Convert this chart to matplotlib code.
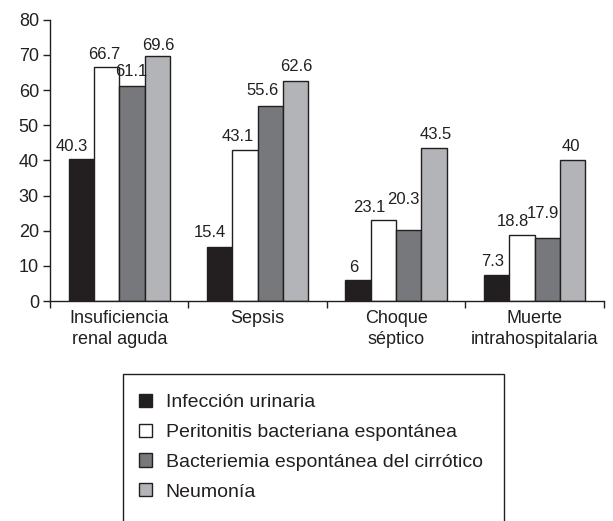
import numpy as np
import matplotlib
matplotlib.use('Agg')
import matplotlib.pyplot as plt
from matplotlib.patches import Rectangle

plt.rcParams['font.family'] = ['Liberation Sans', 'DejaVu Sans']

categories = ['Insuficiencia\nrenal aguda', 'Sepsis', 'Choque\nséptico', 'Muerte\nintrahospitalaria']
series = ['Infección urinaria', 'Peritonitis bacteriana espontánea',
          'Bacteriemia espontánea del cirrótico', 'Neumonía']
infeccion = [40.3, 15.4, 6, 7.3]
peritonitis = [66.7, 43.1, 23.1, 18.8]
bacteriemia = [61.1, 55.6, 20.3, 17.9]
neumonia = [69.6, 62.6, 43.5, 40]
value_labels = [['40.3', '15.4', '6', '7.3'],
                ['66.7', '43.1', '23.1', '18.8'],
                ['61.1', '55.6', '20.3', '17.9'],
                ['69.6', '62.6', '43.5', '40']]
colors = ['#231f20', '#ffffff', '#77787b', '#b3b4b7']
EDGE = '#231f20'

# hand placement of the value labels (pixel offsets from the bar top centre)
label_dx = [[-9.5, -9.5, -4, -4],
            [-2, -7, -14.5, -9.5],
            [-0.5, -7.5, -5.5, -4.5],
            [1.5, 0.5, 1.5, -1.5]]
label_dy = [[13, 14, 13, 14],
            [12, 13, 12, 14],
            [15, 15, 30, 25],
            [11, 14, 14, 14]]

fig = plt.figure(figsize=(6.13, 5.21), dpi=100)
ax = fig.add_axes([0.0816, 0.422, 0.9034, 0.540])

x = np.arange(len(categories))
w = 0.183
data = [infeccion, peritonitis, bacteriemia, neumonia]
for i, (vals, c) in enumerate(zip(data, colors)):
    pos = x + (i - 1.5) * w
    ax.bar(pos, vals, w, color=c, edgecolor=EDGE, linewidth=1.0, label=series[i])
    for j, (p, v, t) in enumerate(zip(pos, vals, value_labels[i])):
        ax.annotate(t, (p, v), xytext=(label_dx[i][j], label_dy[i][j]),
                    textcoords='offset pixels', ha='center', va='center',
                    fontsize=12, color='#231f20')

ax.set_xlim(-0.5, len(categories) - 0.5)
ax.set_ylim(0, 80)
ax.set_yticks(range(0, 81, 10))
ax.set_xticks(np.arange(len(categories) + 1) - 0.5)
ax.set_xticklabels([])
ax.tick_params(axis='x', length=5, width=1, color='#231f20')
ax.tick_params(axis='y', length=5, width=1, color='#231f20', labelsize=13,
               labelcolor='#231f20', pad=3)
for xi, cat in zip(x, categories):
    ax.text(xi, -2.6, cat, ha='center', va='top', fontsize=13, color='#231f20',
            linespacing=1.32)
for s in ['top', 'right']:
    ax.spines[s].set_visible(False)
for s in ['left', 'bottom']:
    ax.spines[s].set_color('#231f20')
    ax.spines[s].set_linewidth(1.0)

# legend box, cropped at the bottom like the original
fig.patches.append(Rectangle((123 / 613, -0.05), (504 - 123) / 613, (1 - 374 / 521) + 0.05,
                             transform=fig.transFigure, fill=False, edgecolor='#231f20',
                             linewidth=1.0))
handles, labels = ax.get_legend_handles_labels()
fig.legend(handles, labels, loc='upper left', bbox_to_anchor=(135 / 613, 1 - 390 / 521),
           frameon=False, fontsize=14, handlelength=0.68, handleheight=0.68,
           handletextpad=0.7, labelspacing=0.63, labelcolor='#231f20',
           borderpad=0.2, borderaxespad=0)

fig.savefig('out.png', dpi=100)
